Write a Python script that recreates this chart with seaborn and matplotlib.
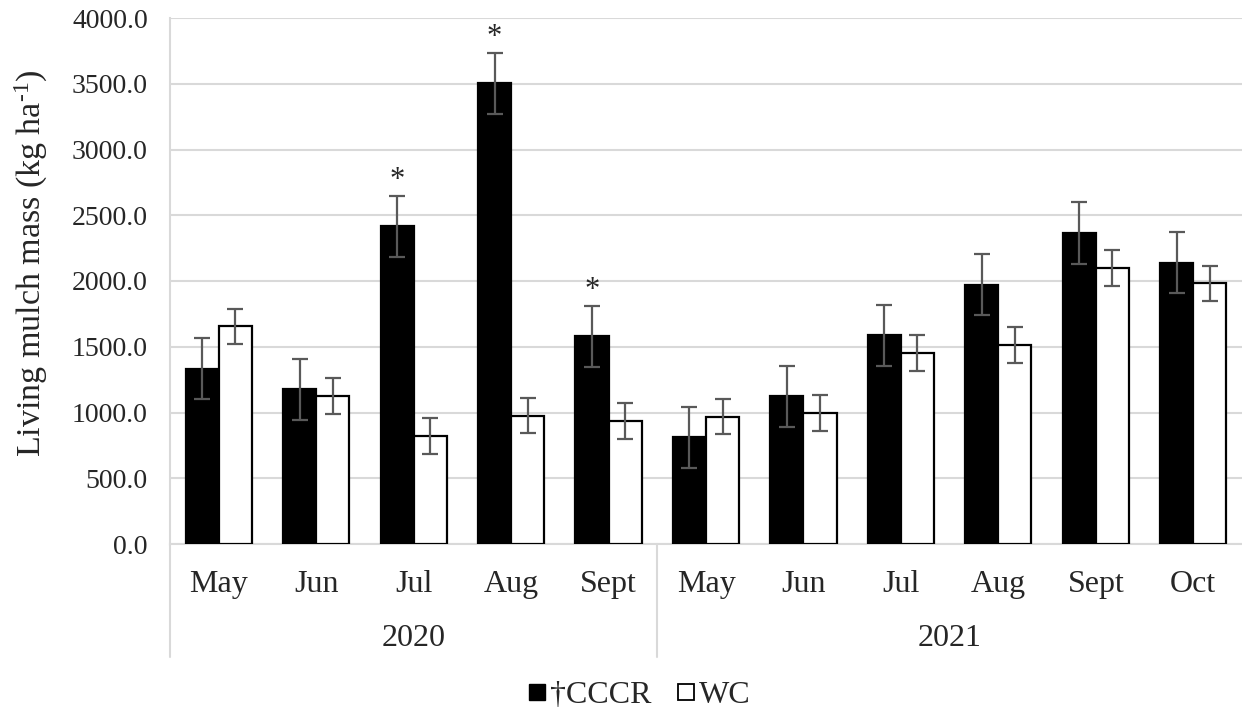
import matplotlib
matplotlib.use("Agg")
import matplotlib.pyplot as plt
from matplotlib.lines import Line2D
import matplotlib.transforms as mtransforms
import numpy as np
import pandas as pd
import seaborn as sns

# Sampling periods (two seasons)
years = ["2020"] * 5 + ["2021"] * 6
months = ["May", "Jun", "Jul", "Aug", "Sept", "May", "Jun", "Jul", "Aug", "Sept", "Oct"]

# Mean living mulch biomass (kg ha-1) and error bar half-widths
cccr_mass = [1333, 1178, 2416, 3505, 1581, 811, 1124, 1586, 1970, 2365, 2139]
wc_mass = [1654, 1127, 819, 977, 933, 969, 996, 1453, 1513, 2098, 1981]
cccr_err = [232] * 11
wc_err = [136] * 11

# Significant differences between treatments
significant = [False, False, True, True, True, False, False, False, False, False, False]

treatments = ["\u2020CCCR", "WC"]

periods = [f"{y}-{m}" for y, m in zip(years, months)]
df = pd.DataFrame({
    "period": periods * 2,
    "treatment": [treatments[0]] * 11 + [treatments[1]] * 11,
    "mass": cccr_mass + wc_mass,
    "err": cccr_err + wc_err,
})

sns.set_theme(style="white")
plt.rcParams["font.family"] = ["Liberation Serif", "DejaVu Serif"]
plt.rcParams["mathtext.fontset"] = "custom"
plt.rcParams["mathtext.rm"] = "Liberation Serif"
plt.rcParams["mathtext.it"] = "Liberation Serif:italic"
plt.rcParams["mathtext.bf"] = "Liberation Serif:bold"

LABEL_FS = 23
TICK_FS = 20

fig = plt.figure(figsize=(12.42, 7.15), dpi=100)
ax = fig.add_axes([170 / 1242, 1 - 544 / 715, (1242 - 170) / 1242, (544 - 18) / 715])

sns.barplot(
    data=df, x="period", y="mass", hue="treatment", order=periods,
    hue_order=treatments, palette=["black", "white"], edgecolor="black",
    linewidth=1.6, width=0.68, errorbar=None, legend=False, ax=ax, zorder=3,
)

# Error bars at bar centres
for container, errs in zip(ax.containers, [cccr_err, wc_err]):
    xs = [p.get_x() + p.get_width() / 2 for p in container.patches]
    hs = [p.get_height() for p in container.patches]
    ax.errorbar(xs, hs, yerr=errs, fmt="none", ecolor="#595959",
                elinewidth=1.6, capsize=5.5, capthick=1.6, zorder=4)

# Significance markers above CCCR bars
cccr_patches = ax.containers[0].patches
for p, sig, val, e in zip(cccr_patches, significant, cccr_mass, cccr_err):
    if sig:
        ax.text(p.get_x() + p.get_width() / 2, val + e + 5, "*",
                ha="center", va="bottom", fontsize=22, zorder=5)

ax.set_ylim(0, 4000)
ax.set_xlim(-0.5, len(periods) - 0.5)
ax.set_yticks(np.arange(0, 4001, 500))
ax.set_yticklabels([f"{v:.1f}" for v in np.arange(0, 4001, 500)], fontsize=TICK_FS)
ax.yaxis.grid(True, color="#d9d9d9", linewidth=1.5, zorder=0)
ax.set_axisbelow(True)
ax.tick_params(axis="both", length=0)
ax.tick_params(axis="y", pad=16)
ax.set_xticks(range(len(periods)))
ax.set_xticklabels(months, fontsize=LABEL_FS)
ax.tick_params(axis="x", pad=19)
ax.set_xlabel("")
ax.set_ylabel("Living mulch mass (kg ha$^{\\text{-1}}$)", fontsize=24.5)
ax.yaxis.set_label_coords(-0.112, 0.535)

for side in ["top", "right"]:
    ax.spines[side].set_visible(False)
ax.spines["bottom"].set_color("#d9d9d9")
ax.spines["bottom"].set_linewidth(1.5)
ax.spines["left"].set_color("#d9d9d9")
ax.spines["left"].set_linewidth(1.5)

# Year group labels and separators below the axis
trans = mtransforms.blended_transform_factory(ax.transData, ax.transAxes)
ext = -(657 - 544) / (544 - 18)
ax.plot([-0.5, -0.5], [0, ext], transform=trans, color="#d9d9d9",
        linewidth=1.5, clip_on=False)
ax.plot([4.5, 4.5], [0, ext], transform=trans, color="#d9d9d9",
        linewidth=1.5, clip_on=False)
year_y = -(639 - 544) / (544 - 18)
ax.text(2.0, year_y, "2020", transform=trans, ha="center", va="center", fontsize=LABEL_FS)
ax.text(7.5, year_y, "2021", transform=trans, ha="center", va="center", fontsize=LABEL_FS)

handles = [
    Line2D([], [], marker="s", linestyle="none", markersize=12,
           markerfacecolor="black", markeredgecolor="black"),
    Line2D([], [], marker="s", linestyle="none", markersize=12,
           markerfacecolor="white", markeredgecolor="black", markeredgewidth=1.3),
]
fig.legend(handles, treatments, loc="center", bbox_to_anchor=(639 / 1242, 1 - 695 / 715),
           ncol=2, frameon=False, fontsize=LABEL_FS, handlelength=0.6,
           handletextpad=0.1, columnspacing=0.8, borderpad=0, borderaxespad=0)

fig.savefig("out.png", dpi=100)
